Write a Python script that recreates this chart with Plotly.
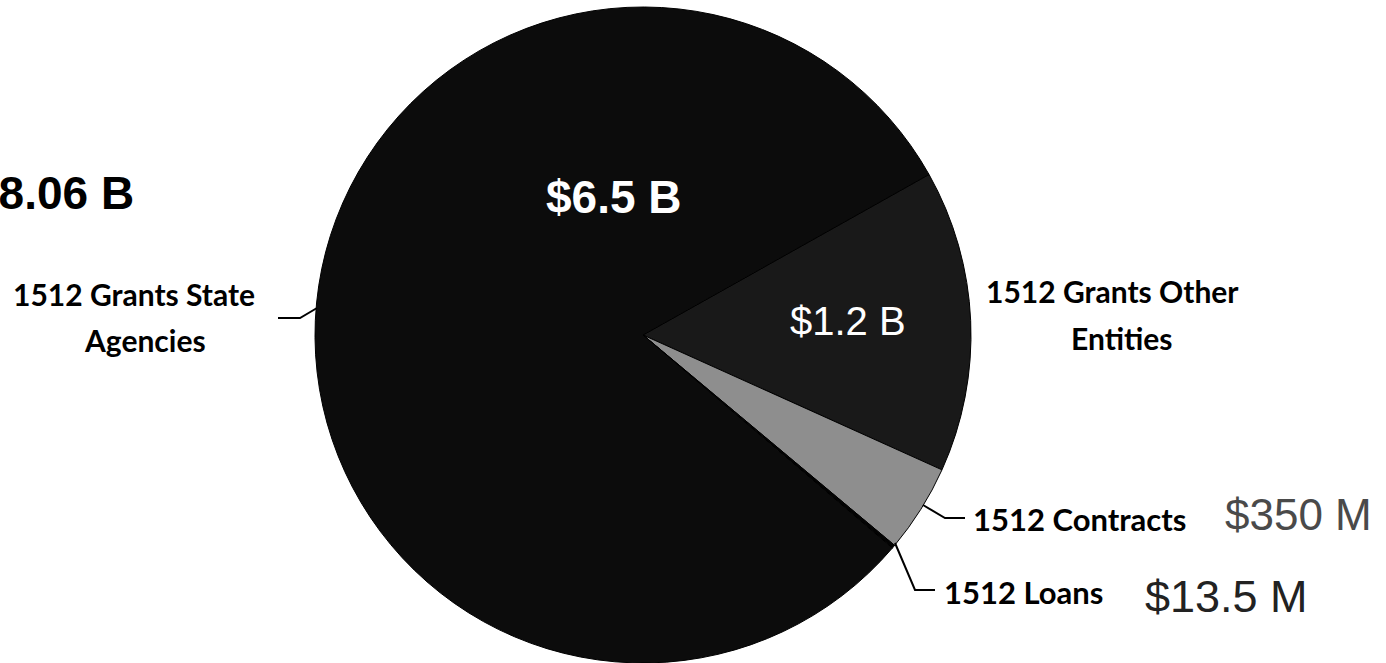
import plotly.graph_objects as go

# ---- data ----
categories = ["1512 Grants Other Entities", "1512 Contracts", "1512 Loans", "1512 Grants State Agencies"]
values = [1.2e9, 350e6, 13.5e6, 6.5e9]
value_labels = ["$1.2 B", "$350 M", "$13.5 M", "$6.5 B"]
label_lines = [["1512 Grants Other", "Entities"], ["1512 Contracts"], ["1512 Loans"], ["1512 Grants State", "Agencies"]]
slice_colors = ["#191919", "#8e8e8e", "#030303", "#0c0c0c"]

W, H = 1386, 663

def px(x):
    return x / W

def py(y):
    return 1 - y / H

cx, cy, r = 643, 335, 328

fig = go.Figure(go.Pie(
    labels=categories,
    values=values,
    sort=False,
    direction="clockwise",
    rotation=60.7,
    textinfo="none",
    hoverinfo="label+value",
    marker=dict(colors=slice_colors, line=dict(color="#000000", width=1)),
    domain=dict(x=[px(cx - r), px(cx + r)], y=[py(cy + r), py(cy - r)]),
    showlegend=False,
))

CAL = "Lato, 'Open Sans', sans-serif"
ARI = "'Liberation Sans', Arial, sans-serif"

ann = []

def add(text, x, y, size, color="#000000", family=ARI, bold=False, xanchor="center"):
    t = f"<b>{text}</b>" if bold else text
    ann.append(dict(text=t, x=px(x), y=py(y), xref="paper", yref="paper",
                    xanchor=xanchor, yanchor="middle", showarrow=False,
                    font=dict(size=size, color=color, family=family)))

# total
total = sum(values)
add(f"${total/1e9:.2f} B", 136, 193, 46, bold=True, xanchor="right")

# value labels
add(value_labels[3], 614, 197, 46, color="#ffffff", bold=True)
add(value_labels[0], 848, 321, 40, color="#ffffff")
add(value_labels[1], 1298, 514, 44, color="#4a4a4a")
add(value_labels[2], 1226, 596, 45, color="#222222")

# category labels
add(label_lines[3][0], 134, 294, 30, family=CAL, bold=True)
add(label_lines[3][1], 145, 340, 30, family=CAL, bold=True)
add(label_lines[0][0], 1112, 291, 30, family=CAL, bold=True)
add(label_lines[0][1], 1121, 338, 30, family=CAL, bold=True)
add(label_lines[1][0], 971, 519, 31, family=CAL, bold=True, xanchor="left")
add(label_lines[2][0], 942, 592, 31, family=CAL, bold=True, xanchor="left")

# leader lines
def leader(pts):
    path = "M " + " L ".join(f"{px(x)},{py(y)}" for x, y in pts)
    return dict(type="path", path=path, xref="paper", yref="paper",
                line=dict(color="#000000", width=2))

shapes = [
    leader([(278, 318), (300, 318), (317, 308)]),
    leader([(923, 505), (945, 518), (965, 518)]),
    leader([(895, 543), (915, 590), (935, 590)]),
]

fig.update_layout(
    width=W, height=H,
    margin=dict(l=0, r=0, t=0, b=0),
    paper_bgcolor="#ffffff",
    plot_bgcolor="#ffffff",
    annotations=ann,
    shapes=shapes,
)

fig.write_html("out.html")
